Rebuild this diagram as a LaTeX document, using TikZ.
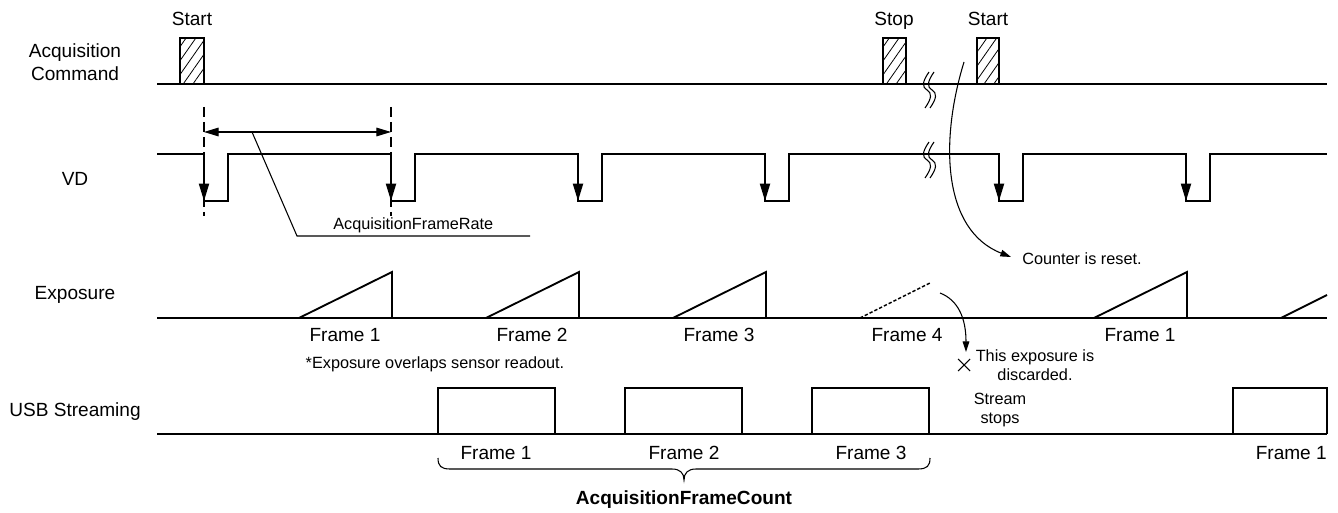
\documentclass[tikz,border=0pt]{standalone}
\usepackage{fontspec}
\setmainfont{Liberation Sans}
\usetikzlibrary{arrows.meta,patterns.meta}
\begin{document}
\begin{tikzpicture}[x=0.75pt,y=-0.75pt,
  sig/.style={line width=1.4pt},
  thinline/.style={line width=0.8pt},
  big/.style={font=\fontsize{14.3}{17}\selectfont, inner sep=0pt, align=center},
  small/.style={font=\fontsize{12.2}{14}\selectfont, inner sep=0pt, align=center},
  cmdpulse/.style={sig, pattern={Lines[angle=55,distance=6pt,line width=0.6pt]}},
  downarrow/.style={sig, -{Triangle[length=13pt,width=7.5pt]}},
  dimarrow/.style={thinline, {Triangle[length=11pt,width=6.5pt]}-{Triangle[length=11pt,width=6.5pt]}},
  curvearrow/.style={thinline, -{Triangle[length=8pt,width=5pt]}},
  guide/.style={thinline, dash pattern=on 7.5pt off 3.75pt},
  lostramp/.style={line width=1.1pt, dash pattern=on 2.5pt off 1.5pt},
  brk/.pic={\draw[thinline] (2,-18) .. controls (-5,-8) and (-5,-3) .. (0,0) .. controls (5,3) and (5,8) .. (-2,18);}
]
\useasboundingbox (0,0) rectangle (1338,513);

% ---------- row labels ----------
\node[big] (lcmd) at (75,62) {Acquisition\\Command};
\node[big] (lvd)  at (75,179) {VD};
\node[big] (lexp) at (75,295) {Exposure};
\node[big] (lusb) at (75,412) {USB Streaming};

% ---------- Acquisition command ----------
\draw[sig] (157,84) -- (1327,84);
\draw[cmdpulse] (180,84) rectangle (204,38);
\draw[cmdpulse] (883,84) rectangle (906,38);
\draw[cmdpulse] (977,84) rectangle (999,38);
\node[big, anchor=base] (start1) at (192,26) {Start};
\node[big, anchor=base] (stop)   at (894,26) {Stop};
\node[big, anchor=base] (start2) at (988,26) {Start};
\pic at (927,90) {brk};
\pic at (932,90) {brk};

% ---------- VD ----------
\draw[sig] (157,154) -- (204,154) -- (204,201) -- (228,201) -- (228,154)
  -- (391,154) -- (391,201) -- (415,201) -- (415,154)
  -- (578,154) -- (578,201) -- (602,201) -- (602,154)
  -- (765,154) -- (765,201) -- (789,201) -- (789,154)
  -- (999,154) -- (999,201) -- (1023,201) -- (1023,154)
  -- (1186,154) -- (1186,201) -- (1210,201) -- (1210,154) -- (1327,154);
\foreach \x in {204,391,578,765,999,1186}
  \draw[downarrow] (\x,160) -- (\x,201);
\pic at (927,160) {brk};
\pic at (932,160) {brk};

% frame-rate dimension
\coordinate (g1t) at (204,107); \coordinate (g1b) at (204,216);
\coordinate (g2t) at (391,107); \coordinate (g2b) at (391,216);
\draw[guide] (g1t) -- (g1b);
\draw[guide] (g2t) -- (g2b);
\coordinate (d1) at (204,132); \coordinate (d2) at (391,132);
\draw[dimarrow] (d1) -- (d2);
\coordinate (lead0) at (252,132);
\coordinate (lead1) at (297,236);
\coordinate (lead2) at (530,236);
\draw[thinline] (lead0) -- (lead1) -- (lead2);
\node[small, anchor=west] (afr) at (333,225) {AcquisitionFrameRate};

% counter reset
\coordinate (cr0) at (964,62);
\node[small, anchor=west] (crtext) at (1022,259) {Counter is reset.};
\coordinate (cr1) at (1011,257);
\draw[curvearrow] (cr0) .. controls (940,140) and (942,230) .. (cr1);

% ---------- Exposure ----------
\draw[sig] (157,318) -- (1327,318);
\foreach \x in {392,579,766,1187}
  \draw[sig] (\x-93,318) -- (\x,272) -- (\x,318);
\draw[sig] (1281,318) -- (1327,295);
\draw[lostramp] (860,318) -- (930,283);
\node[big] (ef1) at (345,335) {Frame 1};
\node[big] (ef2) at (532,335) {Frame 2};
\node[big] (ef3) at (719,335) {Frame 3};
\node[big] (ef4) at (907,335) {Frame 4};
\node[big] (ef5) at (1140,335) {Frame 1};
\node[small] (note) at (435,364) {*Exposure overlaps sensor readout.};

% discarded
\coordinate (ds0) at (940,293);
\coordinate (ds1) at (966,352);
\draw[curvearrow] (ds0) .. controls (958,300) and (966,318) .. (ds1);
\node (xmark) at (964,365) {};
\draw[thinline] (958,359) -- (970,371) (958,371) -- (970,359);
\node[small] (disc) at (1035,365) {This exposure is\\discarded.};

% ---------- USB streaming ----------
\draw[sig] (157,434) -- (1327,434);
\draw[sig] (438,434) -- (438,388) -- (555,388) -- (555,434);
\draw[sig] (625,434) -- (625,388) -- (742,388) -- (742,434);
\draw[sig] (812,434) -- (812,388) -- (929,388) -- (929,434);
\draw[sig] (1233,434) -- (1233,388) -- (1327,388) -- (1327,434);
\node[big] (uf1) at (496,453) {Frame 1};
\node[big] (uf2) at (684,453) {Frame 2};
\node[big] (uf3) at (871,453) {Frame 3};
\node[big, anchor=east] (uf4) at (1327,453) {Frame 1};
\node[small] (ss) at (1000,410) {Stream\\stops};

% brace
\draw[thinline] (438,458) .. controls (438,466) and (441,469) .. (450,469) -- (672,469)
  .. controls (680,469) and (684,473) .. (684,480)
  .. controls (684,473) and (688,469) .. (696,469) -- (918,469)
  .. controls (927,469) and (930,466) .. (930,458);
\node[big, font=\fontsize{14.3}{17}\selectfont\bfseries] (afc) at (684,500) {AcquisitionFrameCount};
\end{tikzpicture}
\end{document}
